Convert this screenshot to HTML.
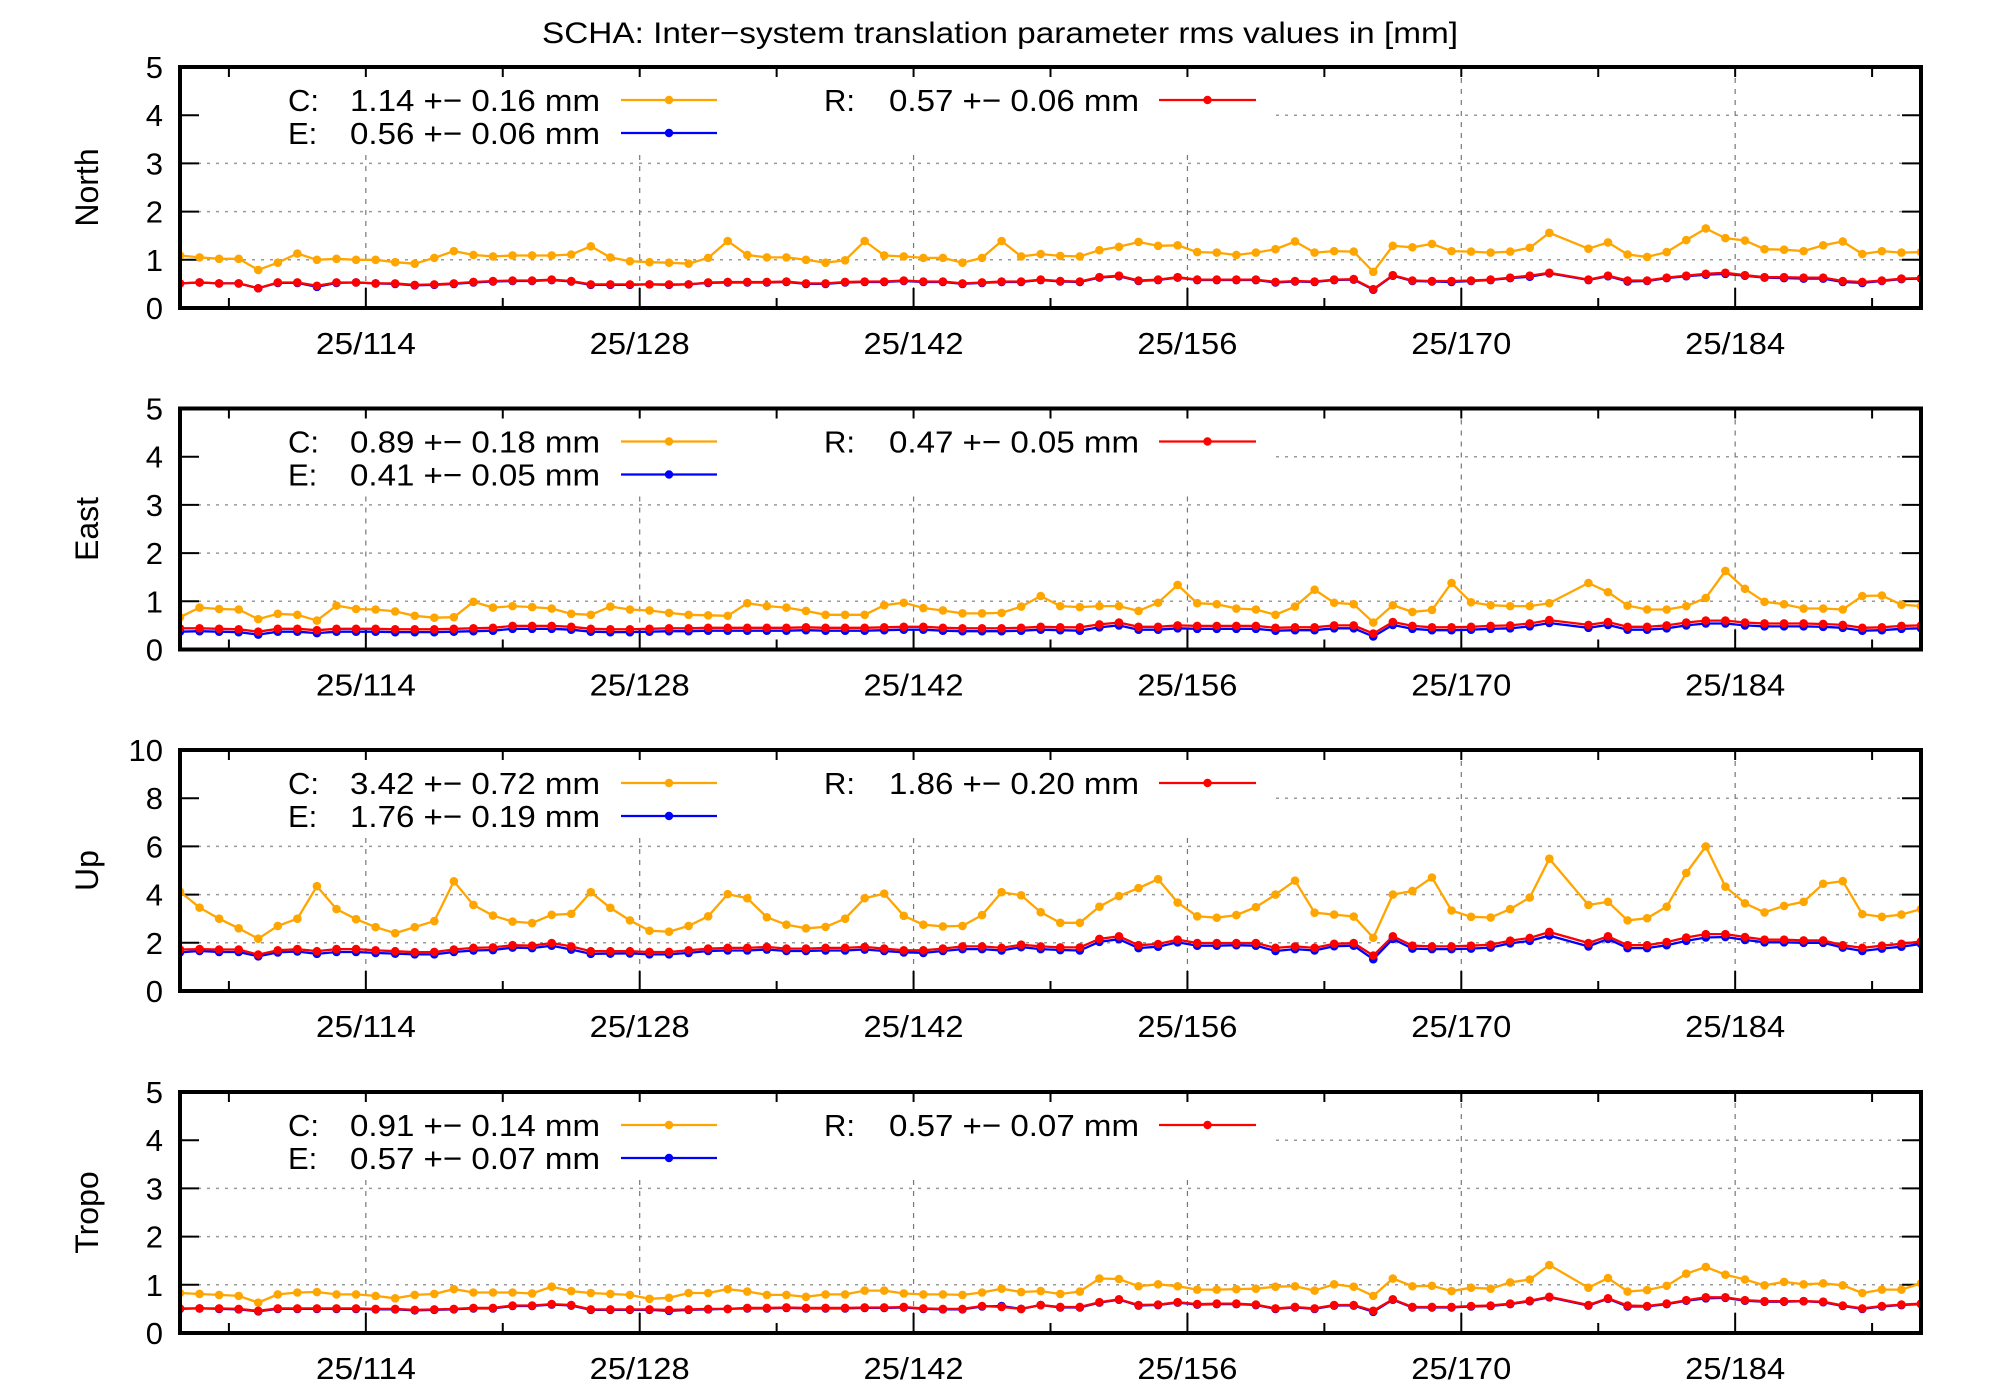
<!DOCTYPE html>
<html><head><meta charset="utf-8"><style>
html,body{margin:0;padding:0;background:#fff;}
svg{display:block;font-family:"Liberation Sans",sans-serif;}
</style></head><body>
<svg id="chart" width="2000" height="1400" viewBox="0 0 2000 1400" xmlns="http://www.w3.org/2000/svg">
<rect width="2000" height="1400" fill="#fff"/>
<text x="1000" y="43" font-size="30" text-anchor="middle" textLength="916" lengthAdjust="spacingAndGlyphs">SCHA: Inter−system translation parameter rms values in [mm]</text>
</svg>
<script>
const days = [105,106,107,108,109,110,111,112,113,114,115,116,117,118,119,120,121,122,123,124,125,126,127,128,129,130,131,132,133,134,135,136,137,138,139,140,141,142,143,144,145,146,147,148,149,150,151,152,153,154,155,156,157,158,159,160,161,162,163,164,165,166,167,168,169,170,171,172,173,174,175,176,177,178,179,180,181,182,183,184,185,186,187,188,189,190,191,192,193,194];
const majorTicks = [114,128,142,156,170,184];
const minorTicks = [107,121,135,149,163,177,191];
const panelNames = ["North","East","Up","Tropo"];
const panelYMax = [5,5,10,5];
const panelYStep = [1,1,2,1];
const legendC = ["1.14 +− 0.16 mm","0.89 +− 0.18 mm","3.42 +− 0.72 mm","0.91 +− 0.14 mm"];
const legendE = ["0.56 +− 0.06 mm","0.41 +− 0.05 mm","1.76 +− 0.19 mm","0.57 +− 0.07 mm"];
const legendR = ["0.57 +− 0.06 mm","0.47 +− 0.05 mm","1.86 +− 0.20 mm","0.57 +− 0.07 mm"];

const northC = [1.09,1.05,1.02,1.02,0.79,0.94,1.13,1.0,1.02,1.0,1.0,0.95,0.92,1.04,1.18,1.1,1.07,1.09,1.09,1.09,1.11,1.28,1.05,0.97,0.95,0.94,0.92,1.04,1.39,1.1,1.05,1.05,1.0,0.94,0.99,1.39,1.09,1.07,1.04,1.04,0.94,1.04,1.39,1.07,1.12,1.08,1.07,1.2,1.27,1.37,1.29,1.3,1.16,1.15,1.1,1.15,1.22,1.38,1.15,1.18,1.17,0.75,1.29,1.26,1.33,1.18,1.17,1.15,1.17,1.25,1.56,null,1.23,1.36,1.11,1.06,1.16,1.41,1.65,1.45,1.4,1.22,1.21,1.18,1.3,1.38,1.12,1.18,1.15,1.16];
const northE = [0.51,0.53,0.51,0.51,0.41,0.52,0.52,0.44,0.52,0.53,0.51,0.5,0.47,0.48,0.5,0.53,0.55,0.56,0.56,0.58,0.55,0.48,0.48,0.48,0.49,0.48,0.49,0.52,0.53,0.53,0.53,0.54,0.5,0.5,0.53,0.54,0.54,0.56,0.54,0.54,0.5,0.52,0.54,0.54,0.58,0.55,0.54,0.63,0.66,0.56,0.58,0.63,0.58,0.58,0.58,0.58,0.53,0.55,0.54,0.58,0.59,0.38,0.67,0.56,0.55,0.54,0.56,0.58,0.62,0.65,0.72,null,0.58,0.66,0.55,0.56,0.62,0.66,0.69,0.71,0.67,0.63,0.62,0.61,0.61,0.54,0.52,0.56,0.6,0.61];
const northR = [0.51,0.53,0.51,0.51,0.41,0.53,0.53,0.46,0.53,0.53,0.51,0.51,0.48,0.49,0.51,0.54,0.56,0.57,0.57,0.59,0.56,0.49,0.49,0.49,0.49,0.49,0.49,0.53,0.54,0.54,0.54,0.55,0.51,0.51,0.54,0.55,0.55,0.57,0.55,0.55,0.51,0.53,0.55,0.55,0.59,0.56,0.55,0.64,0.67,0.57,0.59,0.64,0.59,0.59,0.59,0.59,0.54,0.56,0.55,0.59,0.6,0.39,0.68,0.57,0.56,0.56,0.57,0.59,0.63,0.67,0.73,null,0.59,0.67,0.57,0.57,0.63,0.67,0.71,0.73,0.68,0.64,0.64,0.63,0.63,0.56,0.54,0.57,0.61,0.62];

const eastC = [0.67,0.87,0.84,0.83,0.63,0.74,0.72,0.6,0.91,0.84,0.83,0.79,0.7,0.66,0.67,0.99,0.87,0.9,0.88,0.85,0.74,0.72,0.89,0.83,0.81,0.76,0.72,0.71,0.7,0.96,0.9,0.87,0.8,0.72,0.72,0.72,0.92,0.97,0.86,0.81,0.75,0.75,0.76,0.89,1.11,0.9,0.88,0.9,0.9,0.8,0.97,1.34,0.96,0.94,0.85,0.83,0.72,0.89,1.24,0.97,0.94,0.56,0.92,0.78,0.82,1.38,0.98,0.92,0.9,0.9,0.96,null,1.38,1.19,0.91,0.83,0.83,0.9,1.07,1.63,1.26,0.99,0.94,0.85,0.85,0.83,1.11,1.12,0.93,0.9];
const eastE = [0.37,0.38,0.37,0.36,0.31,0.37,0.37,0.34,0.37,0.37,0.37,0.36,0.36,0.36,0.37,0.38,0.39,0.43,0.43,0.43,0.41,0.37,0.36,0.36,0.37,0.38,0.38,0.39,0.39,0.39,0.39,0.39,0.4,0.39,0.39,0.39,0.4,0.41,0.41,0.39,0.38,0.38,0.38,0.39,0.41,0.4,0.39,0.46,0.5,0.41,0.41,0.44,0.43,0.43,0.43,0.43,0.39,0.4,0.4,0.44,0.44,0.27,0.51,0.43,0.4,0.4,0.41,0.43,0.44,0.48,0.55,null,0.45,0.51,0.41,0.41,0.44,0.5,0.54,0.54,0.5,0.48,0.48,0.48,0.47,0.45,0.39,0.4,0.43,0.44];
const eastR = [0.44,0.44,0.43,0.42,0.37,0.43,0.43,0.4,0.43,0.43,0.43,0.42,0.42,0.42,0.43,0.44,0.45,0.49,0.49,0.49,0.47,0.43,0.42,0.42,0.43,0.44,0.44,0.45,0.45,0.45,0.45,0.45,0.46,0.45,0.45,0.45,0.46,0.47,0.47,0.45,0.44,0.44,0.44,0.45,0.47,0.46,0.46,0.52,0.56,0.47,0.47,0.5,0.49,0.49,0.49,0.49,0.45,0.46,0.46,0.5,0.5,0.33,0.57,0.49,0.46,0.46,0.47,0.49,0.5,0.54,0.61,null,0.51,0.57,0.47,0.47,0.5,0.56,0.6,0.6,0.56,0.54,0.54,0.54,0.53,0.51,0.45,0.46,0.49,0.5];

const upC = [4.12,3.46,3.0,2.6,2.17,2.7,3.0,4.35,3.4,2.98,2.65,2.4,2.65,2.9,4.55,3.57,3.13,2.88,2.82,3.16,3.2,4.1,3.45,2.93,2.5,2.46,2.7,3.1,4.02,3.85,3.06,2.75,2.6,2.66,3.0,3.85,4.04,3.12,2.75,2.68,2.7,3.15,4.1,3.97,3.27,2.83,2.83,3.5,3.94,4.27,4.64,3.67,3.1,3.04,3.15,3.48,4.0,4.58,3.25,3.17,3.09,2.21,4.0,4.15,4.71,3.34,3.08,3.05,3.4,3.88,5.49,null,3.57,3.7,2.93,3.02,3.5,4.9,6.0,4.33,3.64,3.26,3.53,3.7,4.45,4.56,3.19,3.08,3.17,3.4];
const upE = [1.6,1.66,1.62,1.62,1.44,1.6,1.64,1.54,1.62,1.62,1.58,1.55,1.52,1.52,1.62,1.68,1.7,1.8,1.78,1.88,1.72,1.54,1.55,1.56,1.52,1.52,1.58,1.66,1.68,1.68,1.72,1.66,1.66,1.68,1.68,1.72,1.66,1.6,1.58,1.66,1.74,1.74,1.68,1.82,1.74,1.7,1.68,2.04,2.15,1.78,1.84,2.02,1.88,1.88,1.9,1.88,1.66,1.74,1.68,1.86,1.88,1.32,2.16,1.76,1.74,1.74,1.76,1.8,1.98,2.08,2.3,null,1.85,2.16,1.78,1.78,1.9,2.08,2.22,2.24,2.12,2.02,2.02,2.0,2.0,1.8,1.66,1.76,1.84,1.95];
const upR = [1.72,1.74,1.72,1.72,1.51,1.69,1.74,1.65,1.74,1.74,1.69,1.65,1.61,1.62,1.72,1.79,1.81,1.9,1.88,1.99,1.85,1.65,1.65,1.65,1.62,1.62,1.69,1.76,1.79,1.79,1.83,1.76,1.76,1.79,1.79,1.83,1.76,1.69,1.69,1.76,1.85,1.85,1.79,1.92,1.85,1.81,1.81,2.16,2.27,1.9,1.95,2.13,1.99,1.99,1.99,1.99,1.79,1.85,1.79,1.96,1.99,1.47,2.27,1.88,1.85,1.85,1.88,1.92,2.09,2.2,2.45,null,1.99,2.27,1.9,1.9,2.03,2.22,2.36,2.36,2.24,2.13,2.13,2.1,2.1,1.9,1.79,1.88,1.96,2.06];

const tropoC = [0.83,0.81,0.79,0.77,0.63,0.8,0.84,0.85,0.8,0.8,0.77,0.72,0.79,0.81,0.91,0.84,0.84,0.84,0.82,0.96,0.87,0.83,0.81,0.79,0.71,0.73,0.83,0.83,0.91,0.86,0.79,0.79,0.75,0.8,0.8,0.88,0.88,0.82,0.8,0.8,0.79,0.84,0.92,0.85,0.87,0.81,0.86,1.13,1.12,0.97,1.01,0.97,0.9,0.9,0.91,0.92,0.96,0.97,0.88,1.01,0.96,0.77,1.13,0.97,0.98,0.87,0.94,0.92,1.05,1.11,1.41,null,0.94,1.14,0.86,0.89,0.98,1.23,1.37,1.21,1.11,0.99,1.06,1.01,1.03,0.99,0.83,0.9,0.9,1.03];
const tropoE = [0.5,0.51,0.5,0.49,0.45,0.5,0.5,0.5,0.5,0.5,0.49,0.49,0.47,0.48,0.49,0.51,0.51,0.56,0.56,0.59,0.57,0.48,0.48,0.48,0.48,0.46,0.48,0.49,0.5,0.51,0.51,0.52,0.51,0.51,0.51,0.52,0.52,0.53,0.5,0.49,0.49,0.55,0.56,0.5,0.58,0.53,0.53,0.63,0.69,0.57,0.58,0.63,0.59,0.6,0.6,0.58,0.5,0.53,0.5,0.57,0.57,0.44,0.69,0.53,0.53,0.53,0.55,0.56,0.6,0.66,0.74,null,0.57,0.71,0.55,0.55,0.6,0.67,0.72,0.73,0.67,0.65,0.65,0.66,0.64,0.56,0.5,0.55,0.58,0.6];
const tropoR = [0.51,0.51,0.51,0.5,0.46,0.51,0.51,0.51,0.51,0.51,0.5,0.5,0.48,0.49,0.5,0.52,0.52,0.57,0.57,0.6,0.58,0.49,0.49,0.49,0.49,0.48,0.49,0.5,0.5,0.52,0.52,0.53,0.52,0.52,0.52,0.53,0.53,0.54,0.51,0.5,0.5,0.56,0.54,0.5,0.58,0.54,0.54,0.64,0.7,0.58,0.59,0.64,0.6,0.61,0.61,0.59,0.51,0.54,0.51,0.58,0.58,0.46,0.7,0.54,0.54,0.54,0.56,0.57,0.61,0.67,0.75,null,0.58,0.72,0.57,0.56,0.61,0.68,0.74,0.74,0.68,0.66,0.66,0.66,0.65,0.57,0.51,0.56,0.59,0.61];

const seriesC = [northC,eastC,upC,tropoC];
const seriesE = [northE,eastE,upE,tropoE];
const seriesR = [northR,eastR,upR,tropoR];

const NS = "http://www.w3.org/2000/svg";
const svg = document.getElementById("chart");
const L = 180, R = 1921, PH = 241;
const panelTops = [67, 408.5, 750, 1092];
const X0 = 104.5, X1 = 193.5;
function xs(d){ return L + (d - 0.5 - X0) / (X1 - X0) * (R - L); }
function mk(tag, attrs, parent){
  const e = document.createElementNS(NS, tag);
  for (const k in attrs) e.setAttribute(k, attrs[k]);
  (parent || svg).appendChild(e);
  return e;
}
const COLORS = {C:"#ffa500", E:"#0000ff", R:"#ff0000"};

panelNames.forEach((name, p) => {
  const top = panelTops[p], bot = top + PH;
  const ymax = panelYMax[p], ystep = panelYStep[p];
  const ys = v => bot - v / ymax * PH;
  const g = mk("g", {});
  
  
  const legRight = 1276, legBottom = top + 88;
  for (let v = ystep; v < ymax; v += ystep) {
    const y = ys(v);
    const x0 = y < legBottom ? legRight : L;
    const gl = mk("line", {x1:x0, x2:R, y1:y, y2:y, stroke:"#999", "stroke-width":1.5, "stroke-dasharray":"3,6"}, g);
    
    
  }
  majorTicks.forEach(d => {
    const x = xs(d + 0.5);
    const y0 = x < legRight ? legBottom : top;
    const vl = mk("line", {x1:x, x2:x, y1:y0, y2:bot, stroke:"#777", "stroke-width":1.2, "stroke-dasharray":"5,6"}, g);
    
    
  });
  for (let v = 0; v <= ymax; v += ystep) {
    const y = ys(v);
    if (v > 0 && v < ymax) {
      mk("line", {x1:L, x2:L+19, y1:y, y2:y, stroke:"#000", "stroke-width":2}, g);
      mk("line", {x1:R-19, x2:R, y1:y, y2:y, stroke:"#000", "stroke-width":2}, g);
    }
    const t = mk("text", {x:163, y:y+11, "font-size":31, "text-anchor":"end"}, g);
    
    
    t.textContent = v;
  }
  majorTicks.forEach(d => {
    const x = xs(d + 0.5);
    mk("line", {x1:x, x2:x, y1:bot, y2:bot-20, stroke:"#000", "stroke-width":2}, g);
    mk("line", {x1:x, x2:x, y1:top, y2:top+10, stroke:"#000", "stroke-width":2}, g);
    const t = mk("text", {x:x, y:bot+46, "font-size":31, "text-anchor":"middle", textLength:100, lengthAdjust:"spacingAndGlyphs"}, g);
    
    
    t.textContent = "25/" + d;
  });
  minorTicks.forEach(d => {
    const x = xs(d + 0.5);
    mk("line", {x1:x, x2:x, y1:bot, y2:bot-10, stroke:"#000", "stroke-width":2}, g);
    mk("line", {x1:x, x2:x, y1:top, y2:top+10, stroke:"#000", "stroke-width":2}, g);
  });
  const yt = mk("text", {x:0, y:0, "font-size":32, "text-anchor":"middle", transform:"translate(98," + (top + PH/2) + ") rotate(-90)"}, g);
  
  
  yt.textContent = name;
  const clip = mk("clipPath", {id:"clip"+p}, g);
  mk("rect", {x:L, y:top, width:R-L, height:PH}, clip);
  [["C", seriesC[p]], ["E", seriesE[p]], ["R", seriesR[p]]].forEach(([key, vals]) => {
    const sg = mk("g", {"clip-path":"url(#clip"+p+")"}, g);
    
    
    const pts = [];
    vals.forEach((v, i) => { if (v !== null) pts.push([xs(days[i]), ys(v)]); });
    const pl = mk("polyline", {points: pts.map(q => q[0].toFixed(1)+","+q[1].toFixed(1)).join(" "), fill:"none", stroke:COLORS[key], "stroke-width":2.3}, sg);
    
    
    pts.forEach(q => {
      const c = mk("circle", {cx:q[0], cy:q[1], r:4.3, fill:COLORS[key]}, sg);
      
      
    });
  });
  const b = mk("rect", {x:L, y:top, width:R-L, height:PH, fill:"none", stroke:"#000", "stroke-width":4}, g);
  
  
  const leg = [["C", legendC[p], 288, 350, 600, 621, 717, top+33],
               ["E", legendE[p], 288, 350, 600, 621, 717, top+66],
               ["R", legendR[p], 824, 889, 1139, 1159, 1256, top+33]];
  leg.forEach(([key, txt, lx, vx, vend, sx0, sx1, ly]) => {
    const lg = mk("g", {}, g);
    
    
    const t1 = mk("text", {x:lx, y:ly+11, "font-size":31}, lg);
    t1.textContent = key + ":";
    const t2 = mk("text", {x:vx, y:ly+11, "font-size":31, textLength:vend-vx, lengthAdjust:"spacingAndGlyphs"}, lg);
    t2.textContent = txt;
    mk("line", {x1:sx0, x2:sx1, y1:ly, y2:ly, stroke:COLORS[key], "stroke-width":2.2}, lg);
    mk("circle", {cx:(sx0+sx1)/2, cy:ly, r:4.2, fill:COLORS[key]}, lg);
  });
});
</script>
</body></html>
